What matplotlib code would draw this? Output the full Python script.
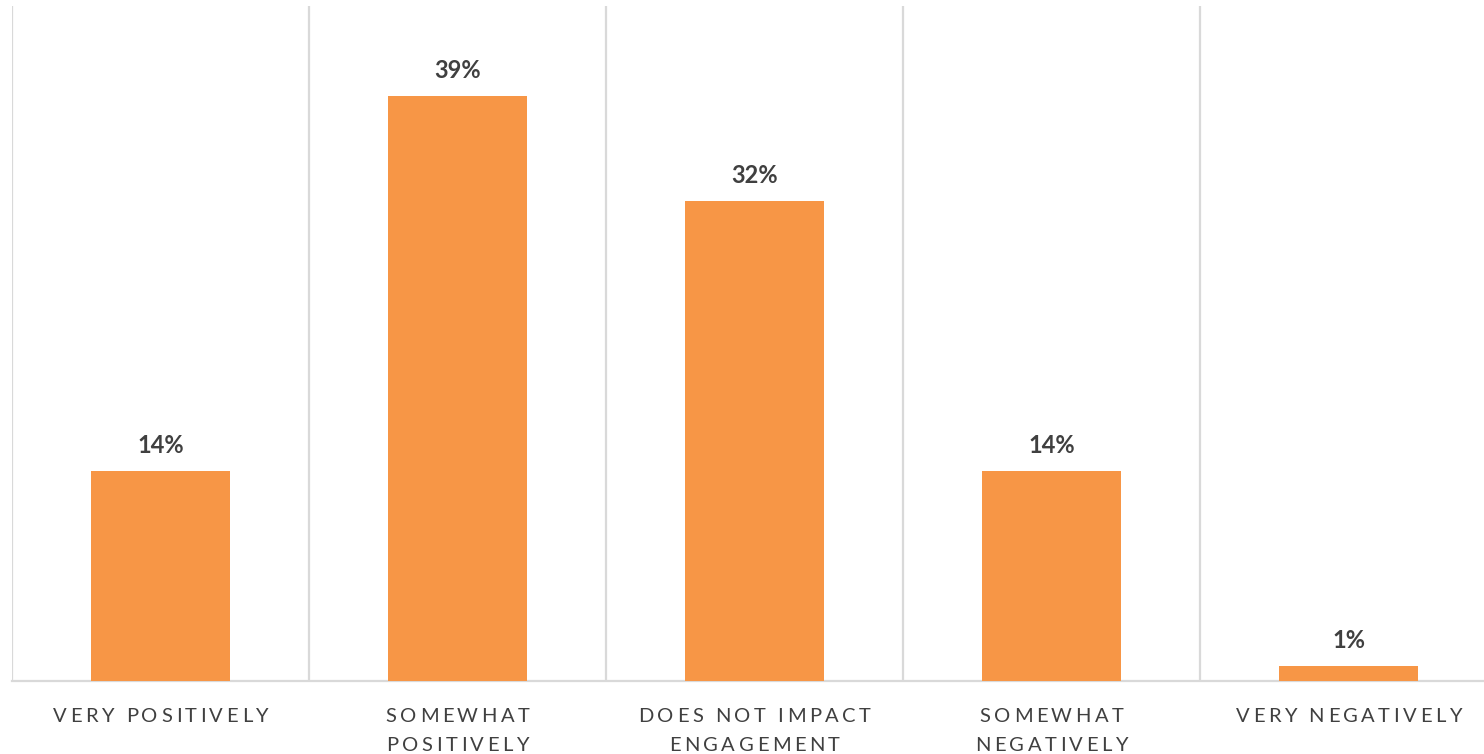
import matplotlib
matplotlib.use("Agg")
import matplotlib.pyplot as plt
from matplotlib.font_manager import FontProperties
from matplotlib.transforms import IdentityTransform
import numpy as np

categories = [
    "VERY POSITIVELY",
    "SOMEWHAT\nPOSITIVELY",
    "DOES NOT IMPACT\nENGAGEMENT",
    "SOMEWHAT\nNEGATIVELY",
    "VERY NEGATIVELY",
]
shares = [14, 39, 32, 14, 1]

BAR_COLOR = "#F79646"
GRID_COLOR = "#D9D9D9"
TEXT_COLOR = "#404040"

plt.rcParams["font.family"] = ["Lato", "DejaVu Sans"]

W, H = 1484, 754
fig = plt.figure(figsize=(W / 100, H / 100), dpi=100)
ax = fig.add_axes([12 / W, 73 / H, 1485 / W, 675 / H])

x = np.arange(len(categories))
bars = ax.bar(x, shares, width=0.468, color=BAR_COLOR, zorder=3)

for rect, val in zip(bars, shares):
    ax.annotate(f"{val}%", (rect.get_x() + rect.get_width() / 2, rect.get_height()),
                xytext=(0, 10), textcoords="offset points",
                ha="center", va="bottom", fontsize=17, fontweight="bold",
                color=TEXT_COLOR)

# separators between categories
ax.vlines(np.arange(-0.5, len(categories) + 0.5), 0, 45,
          color=GRID_COLOR, linewidth=1.6, zorder=1)

ax.set_xlim(-0.5, len(categories) - 0.5)
ax.set_ylim(0, 45)
ax.set_yticks([])
ax.set_xticks([])

for side in ("top", "right", "left"):
    ax.spines[side].set_visible(False)
ax.spines["bottom"].set_color(GRID_COLOR)
ax.spines["bottom"].set_linewidth(1.6)


def tracked_label(xc, text, size=14.5, track=3.5, word_gap=12.0,
                  baseline=722, pitch=29):
    """Draw a letter-spaced, centred label below the axis, in pixels."""
    fp = FontProperties(family="Lato", size=size)
    renderer = fig.canvas.get_renderer()
    cx = ax.transData.transform((xc, 0))[0]
    for i, line in enumerate(text.split("\n")):
        items = []
        for j, word in enumerate(line.split(" ")):
            if j:
                items.append((None, word_gap))
            for k, ch in enumerate(word):
                w = renderer.get_text_width_height_descent(ch, fp, ismath=False)[0]
                items.append((ch, w))
                if k < len(word) - 1:
                    items.append((None, track))
        total = sum(w for _, w in items)
        pos = cx - total / 2
        y = H - (baseline + i * pitch)
        for ch, w in items:
            if ch is not None:
                fig.text(pos, y, ch, transform=IdentityTransform(),
                         fontproperties=fp, color=TEXT_COLOR,
                         ha="left", va="baseline")
            pos += w


for xi, cat in zip(x, categories):
    tracked_label(xi, cat)

fig.savefig("out.png", dpi=100)
